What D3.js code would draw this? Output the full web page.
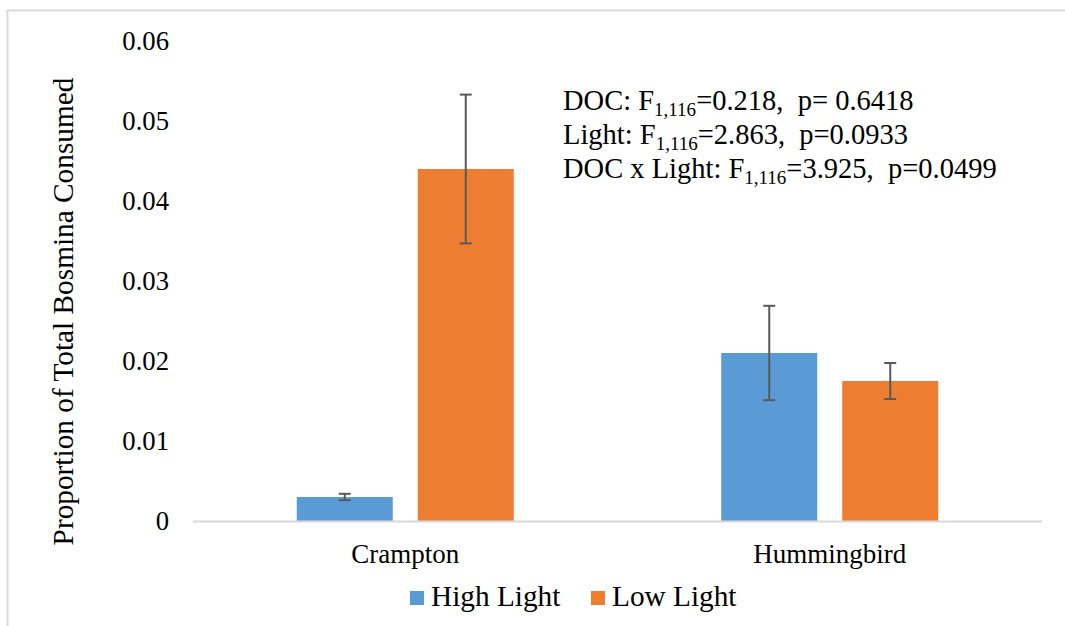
<!DOCTYPE html>
<html>
<head>
<meta charset="utf-8">
<script src="https://cdn.jsdelivr.net/npm/d3@7"></script>
<style>
  html, body { margin: 0; padding: 0; background: #fff; }
  svg { display: block; }
  svg text { font-family: "Liberation Serif", "Times New Roman", "Nimbus Roman", "FreeSerif", "DejaVu Serif", serif; white-space: pre; }
</style>
</head>
<body>
<svg id="chart" width="1065" height="626"></svg>
<script>
// data
const sites = ["Crampton", "Hummingbird"];
const series = ["High Light", "Low Light"];
const colors = ["#5b9bd5", "#ed7d31"];
const means = [
  [0.0030, 0.0440],   // Crampton: high, low
  [0.0210, 0.0175]    // Hummingbird: high, low
];
const errs = [
  [0.0004, 0.0093],
  [0.0059, 0.00225]
];
const yTicks = [0, 0.01, 0.02, 0.03, 0.04, 0.05, 0.06];
const statLines = [
  { pre: "DOC: F", sub: "1,116", post: "=0.218,  p= 0.6418" },
  { pre: "Light: F", sub: "1,116", post: "=2.863,  p=0.0933" },
  { pre: "DOC x Light: F", sub: "1,116", post: "=3.925,  p=0.0499" }
];

const svg = d3.select("#chart");

// outer chart frame (only top/left edges fall inside the picture)
svg.append("rect")
  .attr("x", 7.5).attr("y", 10.5)
  .attr("width", 1080).attr("height", 640)
  .attr("fill", "none")
  .attr("stroke", "#d9d9d9")
  .attr("stroke-width", 2);

const plot = { left: 193, right: 1042, top: 41, bottom: 521 };

const y = d3.scaleLinear().domain([0, 0.06]).range([plot.bottom, plot.top]);
const x0 = d3.scaleBand().domain(sites).range([plot.left, plot.right]);
// bars + gap inside one category
const groupW = 217;
const x1 = d3.scaleBand().domain(series).range([0, groupW]).paddingInner(0.2066);
const groupOff = (x0.bandwidth() - groupW) / 2;

// y tick labels (no axis line, no gridlines)
svg.append("g")
  .selectAll("text")
  .data(yTicks)
  .join("text")
  .attr("x", 169)
  .attr("y", d => y(d))
  .attr("dy", "0.35em")
  .attr("text-anchor", "end")
  .attr("font-size", 26.7)
  .attr("fill", "#000")
  .text(d => d === 0 ? "0" : d3.format(".2f")(d));

// bars
const groups = svg.append("g")
  .selectAll("g")
  .data(sites)
  .join("g")
  .attr("transform", d => `translate(${x0(d) + groupOff},0)`);

groups.selectAll("rect")
  .data((d, i) => series.map((s, j) => ({ s, j, v: means[i][j], e: errs[i][j] })))
  .join("rect")
  .attr("x", d => x1(d.s))
  .attr("width", x1.bandwidth())
  .attr("y", d => y(d.v))
  .attr("height", d => y(0) - y(d.v))
  .attr("fill", d => colors[d.j]);

// error bars
const eb = groups.selectAll("g.err")
  .data((d, i) => series.map((s, j) => ({ s, v: means[i][j], e: errs[i][j] })))
  .join("g")
  .attr("class", "err")
  .attr("stroke", "#595959")
  .attr("stroke-width", 2);

eb.append("line")
  .attr("x1", d => x1(d.s) + x1.bandwidth() / 2)
  .attr("x2", d => x1(d.s) + x1.bandwidth() / 2)
  .attr("y1", d => y(d.v + d.e))
  .attr("y2", d => y(d.v - d.e));
[1, -1].forEach(sign => {
  eb.append("line")
    .attr("x1", d => x1(d.s) + x1.bandwidth() / 2 - 6)
    .attr("x2", d => x1(d.s) + x1.bandwidth() / 2 + 6)
    .attr("y1", d => y(d.v + sign * d.e))
    .attr("y2", d => y(d.v + sign * d.e));
});

// baseline
svg.append("line")
  .attr("x1", plot.left).attr("x2", plot.right)
  .attr("y1", y(0) + 0.5).attr("y2", y(0) + 0.5)
  .attr("stroke", "#d9d9d9")
  .attr("stroke-width", 2);

// category labels
svg.append("g")
  .selectAll("text")
  .data(sites)
  .join("text")
  .attr("x", d => x0(d) + x0.bandwidth() / 2)
  .attr("y", 563)
  .attr("text-anchor", "middle")
  .attr("font-size", 27)
  .attr("fill", "#000")
  .text(d => d);

// y axis title
svg.append("text")
  .attr("transform", `translate(73,${(75 + 548) / 2}) rotate(-90)`)
  .attr("text-anchor", "middle")
  .attr("font-size", 29.3)
  .attr("fill", "#000")
  .text("Proportion of Total Bosmina Consumed");

// stats annotation
const ann = svg.append("g");
statLines.forEach((l, i) => {
  const t = ann.append("text")
    .attr("x", 563)
    .attr("y", 110 + i * 34)
    .attr("font-size", 28.5)
    .attr("fill", "#000");
  t.append("tspan").text(l.pre);
  t.append("tspan").attr("font-size", 19).attr("dy", 6).text(l.sub);
  t.append("tspan").attr("dy", -6).text(l.post);
});

// legend
const legend = svg.append("g");
const legX = [410, 591];
series.forEach((s, i) => {
  legend.append("rect")
    .attr("x", legX[i]).attr("y", 591)
    .attr("width", 14).attr("height", 14)
    .attr("fill", colors[i]);
  legend.append("text")
    .attr("x", legX[i] + 21)
    .attr("y", 606)
    .attr("font-size", 29.3)
    .attr("fill", "#000")
    .text(s);
});
</script>
</body>
</html>
